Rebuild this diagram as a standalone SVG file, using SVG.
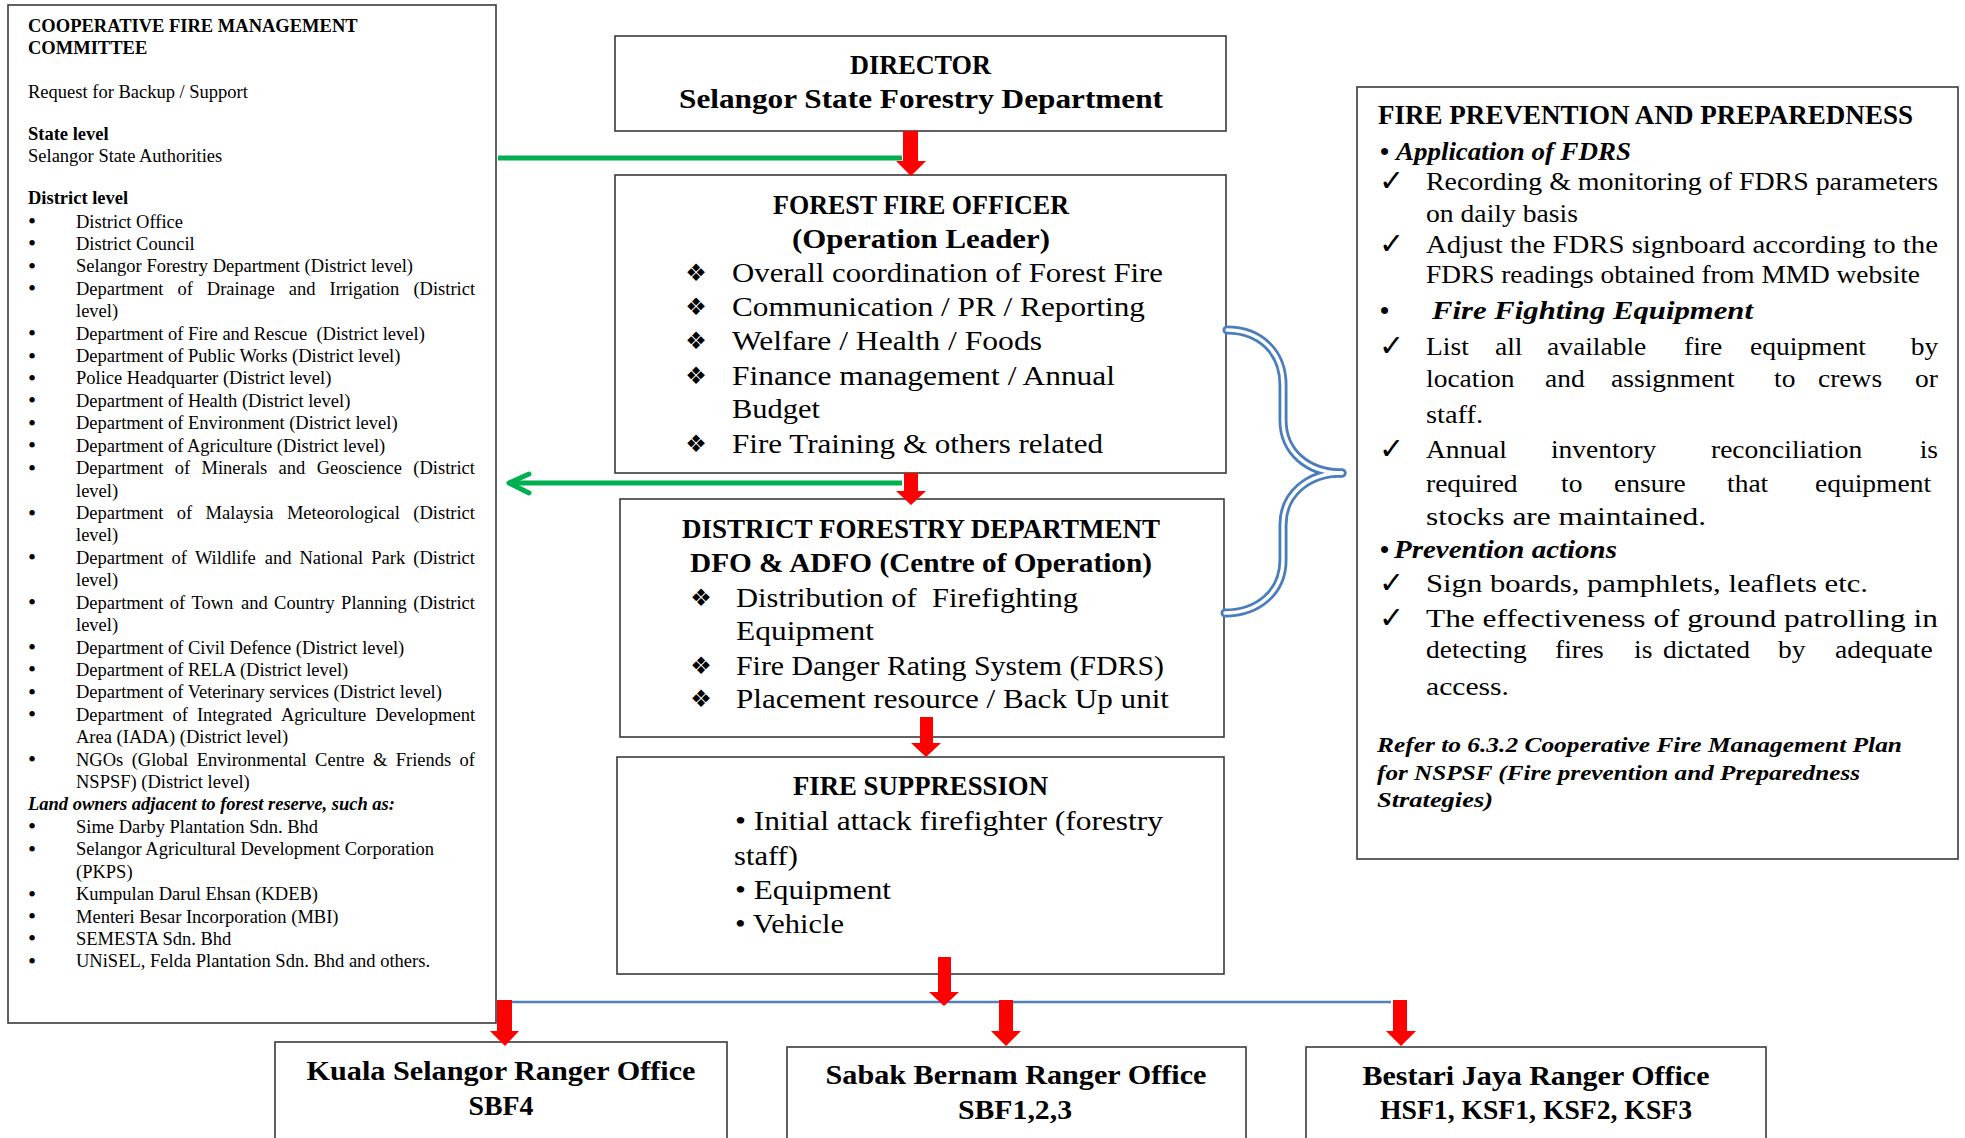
<svg xmlns="http://www.w3.org/2000/svg" width="1965" height="1138" viewBox="0 0 1965 1138">
<style>
.box{fill:#fff;stroke:#3a3a3a;stroke-width:1.6}
.lt{font-family:"Liberation Serif","Times New Roman",serif;font-size:18.5px;fill:#000}
.bul{font-family:"Liberation Serif","Times New Roman",serif;font-size:23px;fill:#000;text-anchor:middle}
.b{font-weight:bold}
.bi{font-weight:bold;font-style:italic}
.c{font-family:"Liberation Serif","Times New Roman",serif;font-size:28px;fill:#000}
.h{font-weight:bold;text-anchor:middle}
.f{font-family:"Liberation Serif","Times New Roman",serif;font-size:26px;fill:#000}
.sym{font-family:"DejaVu Sans",sans-serif;fill:#000}
.dia{font-size:24px;text-anchor:middle}
.chk{font-size:30px}
.red{fill:#ff0000}
.grn{fill:none;stroke:#00b050;stroke-width:5;stroke-linecap:round;stroke-linejoin:round}
.brO{fill:none;stroke:#4a7ebb;stroke-width:9;stroke-linecap:round}
.brI{fill:none;stroke:#fff;stroke-width:3.4;stroke-linecap:round}
</style>

<g id="committee">
<rect class="box" x="8" y="5" width="488" height="1018"/>
<g class="lt">
<text class="b" x="28" y="32">COOPERATIVE FIRE MANAGEMENT</text>
<text class="b" x="28" y="54">COMMITTEE</text>
<text x="28" y="98">Request for Backup / Support</text>
<text class="b" x="28" y="140">State level</text>
<text x="28" y="162">Selangor State Authorities</text>
<text class="b" x="28" y="204">District level</text>
</g>
<g class="bul">
<text x="32" y="229">•</text><text x="32" y="251.4">•</text><text x="32" y="273.8">•</text><text x="32" y="296.3">•</text>
<text x="32" y="341.1">•</text><text x="32" y="363.5">•</text><text x="32" y="385.9">•</text><text x="32" y="408.4">•</text>
<text x="32" y="430.8">•</text><text x="32" y="453.2">•</text><text x="32" y="475.6">•</text><text x="32" y="520.5">•</text>
<text x="32" y="565.3">•</text><text x="32" y="610.1">•</text><text x="32" y="655">•</text><text x="32" y="677.4">•</text>
<text x="32" y="699.8">•</text><text x="32" y="722.2">•</text><text x="32" y="767.1">•</text><text x="32" y="834.3">•</text>
<text x="32" y="856.7">•</text><text x="32" y="901.6">•</text><text x="32" y="924">•</text><text x="32" y="946.4">•</text>
<text x="32" y="968.9">•</text>
</g>
<g class="lt">
<text x="76" y="227.5">District Office</text>
<text x="76" y="249.9">District Council</text>
<text x="76" y="272.3">Selangor Forestry Department (District level)</text>
<text y="294.8"><tspan x="76">Department</tspan><tspan x="177.4">of</tspan><tspan x="206.8">Drainage</tspan><tspan x="288.7">and</tspan><tspan x="329.5">Irrigation</tspan><tspan x="413.4">(District</tspan></text>
<text x="76" y="317.2">level)</text>
<text x="76" y="339.6">Department of Fire and Rescue&#160; (District level)</text>
<text x="76" y="362">Department of Public Works (District level)</text>
<text x="76" y="384.4">Police Headquarter (District level)</text>
<text x="76" y="406.9">Department of Health (District level)</text>
<text x="76" y="429.3">Department of Environment (District level)</text>
<text x="76" y="451.7">Department of Agriculture (District level)</text>
<text y="474.1"><tspan x="76">Department</tspan><tspan x="174.7">of</tspan><tspan x="201.5">Minerals</tspan><tspan x="278.6">and</tspan><tspan x="316.7">Geoscience</tspan><tspan x="413.3">(District</tspan></text>
<text x="76" y="496.5">level)</text>
<text y="519"><tspan x="76">Department</tspan><tspan x="176.8">of</tspan><tspan x="205.6">Malaysia</tspan><tspan x="286.9">Meteorological</tspan><tspan x="413.3">(District</tspan></text>
<text x="76" y="541.4">level)</text>
<text y="563.8"><tspan x="76">Department</tspan><tspan x="171.4">of</tspan><tspan x="194.9">Wildlife</tspan><tspan x="264.7">and</tspan><tspan x="299.5">National</tspan><tspan x="371.3">Park</tspan><tspan x="413.3">(District</tspan></text>
<text x="76" y="586.2">level)</text>
<text y="608.6"><tspan x="76">Department</tspan><tspan x="169.7">of</tspan><tspan x="191.5">Town</tspan><tspan x="241">and</tspan><tspan x="274.1">Country</tspan><tspan x="341.1">Planning</tspan><tspan x="413.3">(District</tspan></text>
<text x="76" y="631.1">level)</text>
<text x="76" y="653.5">Department of Civil Defence (District level)</text>
<text x="76" y="675.9">Department of RELA (District level)</text>
<text x="76" y="698.3">Department of Veterinary services (District level)</text>
<text y="720.7"><tspan x="76">Department</tspan><tspan x="172.4">of</tspan><tspan x="196.9">Integrated</tspan><tspan x="281">Agriculture</tspan><tspan x="375.4">Development</tspan></text>
<text x="76" y="743.2">Area (IADA) (District level)</text>
<text y="765.6"><tspan x="76">NGOs</tspan><tspan x="131.7">(Global</tspan><tspan x="196.7">Environmental</tspan><tspan x="315.1">Centre</tspan><tspan x="372.9">&amp;</tspan><tspan x="395.7">Friends</tspan><tspan x="459.6">of</tspan></text>
<text x="76" y="788">NSPSF) (District level)</text>
<text class="bi" x="28" y="810.4">Land owners adjacent to forest reserve, such as:</text>
<text x="76" y="832.8">Sime Darby Plantation Sdn. Bhd</text>
<text x="76" y="855.2">Selangor Agricultural Development Corporation</text>
<text x="76" y="877.7">(PKPS)</text>
<text x="76" y="900.1">Kumpulan Darul Ehsan (KDEB)</text>
<text x="76" y="922.5">Menteri Besar Incorporation (MBI)</text>
<text x="76" y="944.9">SEMESTA Sdn. Bhd</text>
<text x="76" y="967.4">UNiSEL, Felda Plantation Sdn. Bhd and others.</text>
</g>
</g>

<g id="director">
<rect class="box" x="615" y="36" width="611" height="95"/>
<text class="c h" x="920.5" y="74" textLength="141" lengthAdjust="spacingAndGlyphs">DIRECTOR</text>
<text class="c h" x="921" y="108" textLength="484" lengthAdjust="spacingAndGlyphs">Selangor State Forestry Department</text>
</g>

<g id="forest-fire-officer">
<rect class="box" x="615" y="175" width="611" height="298"/>
<text class="c h" x="921" y="214" textLength="296" lengthAdjust="spacingAndGlyphs">FOREST FIRE OFFICER</text>
<text class="c h" x="921" y="248" textLength="258" lengthAdjust="spacingAndGlyphs">(Operation Leader)</text>
<g class="sym dia">
<text x="696" y="281">❖</text><text x="696" y="315">❖</text><text x="696" y="349">❖</text><text x="696" y="384">❖</text><text x="696" y="452">❖</text>
</g>
<g class="c">
<text x="732" y="282" textLength="431" lengthAdjust="spacingAndGlyphs">Overall coordination of Forest Fire</text>
<text x="732" y="316" textLength="413" lengthAdjust="spacingAndGlyphs">Communication / PR / Reporting</text>
<text x="732" y="350" textLength="310" lengthAdjust="spacingAndGlyphs">Welfare / Health / Foods</text>
<text x="732" y="385" textLength="383" lengthAdjust="spacingAndGlyphs">Finance management / Annual</text>
<text x="732" y="418" textLength="88" lengthAdjust="spacingAndGlyphs">Budget</text>
<text x="732" y="453" textLength="371" lengthAdjust="spacingAndGlyphs">Fire Training &amp; others related</text>
</g>
</g>

<g id="district-forestry">
<rect class="box" x="620" y="499" width="604" height="238"/>
<text class="c h" x="921" y="538" textLength="478" lengthAdjust="spacingAndGlyphs">DISTRICT FORESTRY DEPARTMENT</text>
<text class="c h" x="921" y="572" textLength="462" lengthAdjust="spacingAndGlyphs">DFO &amp; ADFO (Centre of Operation)</text>
<g class="sym dia">
<text x="701" y="606">❖</text><text x="701" y="674">❖</text><text x="701" y="707">❖</text>
</g>
<g class="c">
<text x="736" y="607" textLength="342" lengthAdjust="spacingAndGlyphs">Distribution of&#160; Firefighting</text>
<text x="736" y="640" textLength="138" lengthAdjust="spacingAndGlyphs">Equipment</text>
<text x="736" y="675" textLength="428" lengthAdjust="spacingAndGlyphs">Fire Danger Rating System (FDRS)</text>
<text x="736" y="708" textLength="433" lengthAdjust="spacingAndGlyphs">Placement resource / Back Up unit</text>
</g>
</g>

<g id="fire-suppression">
<rect class="box" x="617" y="757" width="607" height="217"/>
<text class="c h" x="920.5" y="795" textLength="255" lengthAdjust="spacingAndGlyphs">FIRE SUPPRESSION</text>
<g class="c">
<text x="735" y="830" textLength="428" lengthAdjust="spacingAndGlyphs">• Initial attack firefighter (forestry</text>
<text x="734" y="865" textLength="64" lengthAdjust="spacingAndGlyphs">staff)</text>
<text x="735" y="899" textLength="156" lengthAdjust="spacingAndGlyphs">• Equipment</text>
<text x="735" y="933" textLength="109" lengthAdjust="spacingAndGlyphs">• Vehicle</text>
</g>
</g>

<g id="prevention">
<rect class="box" x="1357" y="87" width="601" height="772"/>
<text class="c b" x="1378" y="124" style="font-size:27px" textLength="535" lengthAdjust="spacingAndGlyphs">FIRE PREVENTION AND PREPAREDNESS</text>
<g class="f">
<text class="b" x="1380" y="160">•</text>
<text class="bi" x="1396" y="160" textLength="235" lengthAdjust="spacingAndGlyphs">Application of FDRS</text>
<text x="1426" y="190" textLength="512" lengthAdjust="spacingAndGlyphs">Recording &amp; monitoring of FDRS parameters</text>
<text x="1426" y="222" textLength="152" lengthAdjust="spacingAndGlyphs">on daily basis</text>
<text x="1426" y="253" textLength="512" lengthAdjust="spacingAndGlyphs">Adjust the FDRS signboard according to the</text>
<text x="1426" y="283" textLength="494" lengthAdjust="spacingAndGlyphs">FDRS readings obtained from MMD website</text>
<text class="b" x="1380" y="319">•</text>
<text class="bi" x="1432" y="319" textLength="321" lengthAdjust="spacingAndGlyphs">Fire Fighting Equipment</text>
<text transform="translate(1426,355) scale(1.058,1)"><tspan x="0">List</tspan><tspan x="65.2">all</tspan><tspan x="114.4">available</tspan><tspan x="243.9">fire</tspan><tspan x="306.2">equipment</tspan><tspan x="458.1">by</tspan></text>
<text transform="translate(1426,387) scale(1.058,1)"><tspan x="0">location</tspan><tspan x="112.5">and</tspan><tspan x="174.9">assignment</tspan><tspan x="329">to</tspan><tspan x="370.5">crews</tspan><tspan x="462.2">or</tspan></text>
<text x="1426" y="423" textLength="57" lengthAdjust="spacingAndGlyphs">staff.</text>
<text transform="translate(1426,458) scale(1.058,1)"><tspan x="0">Annual</tspan><tspan x="118.1">inventory</tspan><tspan x="269.4">reconciliation</tspan><tspan x="466.6">is</tspan></text>
<text transform="translate(1426,492) scale(1.058,1)"><tspan x="0">required</tspan><tspan x="127.6">to</tspan><tspan x="177.7">ensure</tspan><tspan x="284.5">that</tspan><tspan x="367.7">equipment</tspan></text>
<text x="1426" y="525" textLength="280" lengthAdjust="spacingAndGlyphs">stocks are maintained.</text>
<text class="b" x="1380" y="558">•</text>
<text class="bi" x="1394" y="558" textLength="223" lengthAdjust="spacingAndGlyphs">Prevention actions</text>
<text x="1426" y="592" textLength="442" lengthAdjust="spacingAndGlyphs">Sign boards, pamphlets, leaflets etc.</text>
<text x="1426" y="627" textLength="512" lengthAdjust="spacingAndGlyphs">The effectiveness of ground patrolling in</text>
<text transform="translate(1426,658) scale(1.058,1)"><tspan x="0">detecting</tspan><tspan x="121.9">fires</tspan><tspan x="196.6">is</tspan><tspan x="224">dictated</tspan><tspan x="332.7">by</tspan><tspan x="386.6">adequate</tspan></text>
<text x="1426" y="695" textLength="83" lengthAdjust="spacingAndGlyphs">access.</text>
<text class="bi" x="1377" y="752" style="font-size:21px" textLength="525" lengthAdjust="spacingAndGlyphs">Refer to 6.3.2 Cooperative Fire Management Plan</text>
<text class="bi" x="1377" y="780" style="font-size:21px" textLength="483" lengthAdjust="spacingAndGlyphs">for NSPSF (Fire prevention and Preparedness</text>
<text class="bi" x="1377" y="807" style="font-size:21px" textLength="116" lengthAdjust="spacingAndGlyphs">Strategies)</text>
</g>
<g class="sym chk">
<text x="1379" y="191">✓</text><text x="1379" y="254">✓</text><text x="1379" y="356">✓</text><text x="1379" y="459">✓</text><text x="1379" y="593">✓</text><text x="1379" y="628">✓</text>
</g>
</g>

<g id="kuala-selangor">
<rect class="box" x="275" y="1042" width="452" height="110"/>
<text class="c h" x="501" y="1080" textLength="389" lengthAdjust="spacingAndGlyphs">Kuala Selangor Ranger Office</text>
<text class="c h" x="501" y="1115" textLength="65" lengthAdjust="spacingAndGlyphs">SBF4</text>
</g>
<g id="sabak-bernam">
<rect class="box" x="787" y="1047" width="459" height="110"/>
<text class="c h" x="1016" y="1084" textLength="381" lengthAdjust="spacingAndGlyphs">Sabak Bernam Ranger Office</text>
<text class="c h" x="1015" y="1119" textLength="114" lengthAdjust="spacingAndGlyphs">SBF1,2,3</text>
</g>
<g id="bestari-jaya">
<rect class="box" x="1306" y="1047" width="460" height="110"/>
<text class="c h" x="1536" y="1085" textLength="347" lengthAdjust="spacingAndGlyphs">Bestari Jaya Ranger Office</text>
<text class="c h" x="1536" y="1119" textLength="312" lengthAdjust="spacingAndGlyphs">HSF1, KSF1, KSF2, KSF3</text>
</g>

<g id="connectors">
<line class="grn" x1="498" y1="158" x2="902" y2="158" style="stroke-linecap:butt"/>
<line class="grn" x1="509" y1="483" x2="902" y2="483" style="stroke-linecap:butt"/>
<polyline class="grn" points="529,474 509,483 529,493"/>
<line x1="510" y1="1002" x2="1391" y2="1002" stroke="#4f81bd" stroke-width="2.5"/>
<polygon class="red" points="903,131 918,131 918,161 926,161 911,176 896,161 903,161"/>
<polygon class="red" points="904,473 918,473 918,491 926,491 911,505 896,491 904,491"/>
<polygon class="red" points="920,717 933,717 933,743 941,743 926,757 911,743 920,743"/>
<polygon class="red" points="938,957 951,957 951,992 959,992 944,1006 929,992 938,992"/>
<polygon class="red" points="497,1000 512,1000 512,1031 519,1031 505,1046 490,1031 497,1031"/>
<polygon class="red" points="999,1000 1013,1000 1013,1031 1021,1031 1006,1046 991,1031 999,1031"/>
<polygon class="red" points="1393,1000 1407,1000 1407,1031 1416,1031 1401,1046 1386,1031 1393,1031"/>
<path class="brO" d="M1227,330 C1260,330 1283,352 1283,385 L1283,420 C1283,452 1308,473 1342,473"/>
<path class="brO" d="M1342,473 C1308,473 1283,494 1283,525 L1283,560 C1283,592 1258,613 1225,613"/>
<path class="brI" d="M1227,330 C1260,330 1283,352 1283,385 L1283,420 C1283,452 1308,473 1342,473"/>
<path class="brI" d="M1342,473 C1308,473 1283,494 1283,525 L1283,560 C1283,592 1258,613 1225,613"/>
</g>
</svg>
